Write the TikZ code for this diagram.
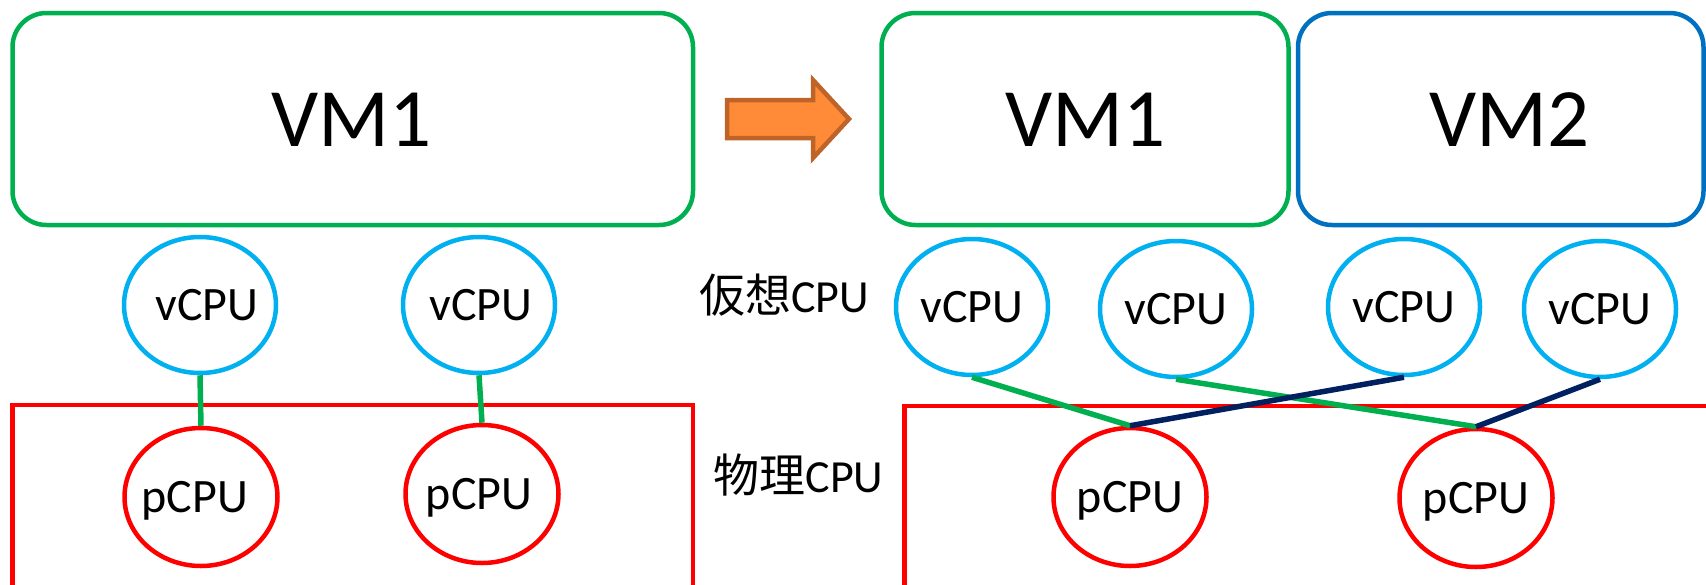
\documentclass[tikz,border=0pt]{standalone}
\usepackage{fontspec}
\setmainfont{Carlito}
\newfontfamily\cjk{Noto Sans CJK JP}
\usetikzlibrary{shapes.geometric}
\definecolor{vmgreen}{HTML}{00B050}
\definecolor{vmblue}{HTML}{0070C0}
\definecolor{cpublue}{HTML}{00B0F0}
\definecolor{cpured}{HTML}{FF0000}
\definecolor{navyline}{HTML}{002060}
\definecolor{arrowfill}{HTML}{FF8B38}
\definecolor{arrowdraw}{HTML}{BE6428}
\tikzset{
  vmbox/.style={draw, line width=4.5pt, rounded corners=34pt},
  vmtext/.style={font=\fontsize{83}{90}\selectfont, inner sep=0pt},
  vcpu/.style={ellipse, draw=cpublue, line width=4.5pt, minimum width=152pt, minimum height=136pt, inner sep=0pt, font=\fontsize{48}{52}\selectfont, text height=30pt, text depth=0pt},
  pcpu/.style={ellipse, draw=cpured, line width=4.5pt, minimum width=153pt, minimum height=138pt, inner sep=0pt, font=\fontsize{48}{52}\selectfont, text height=30pt, text depth=0pt},
  host/.style={draw=cpured, line width=4.5pt},
  gline/.style={draw=vmgreen, line width=5.5pt},
  nline/.style={draw=navyline, line width=5.5pt},
  lbl/.style={font=\fontsize{46}{50}\selectfont, inner sep=0pt, anchor=base},
}
\begin{document}
\begin{tikzpicture}[x=1pt, y=-1pt]
\useasboundingbox (0,0) rectangle (1706,584);
\clip (0,0) rectangle (1706,584);
% left side
\draw[vmbox, vmgreen] (12.5,13) rectangle (693,225);
\node[vmtext] (lvmtext) at (351.5,120) {VM1};
\draw[host] (12.5,405) rectangle (693,610);
\node[vcpu] (lv1) at (200,305) {\makebox[0pt]{\hspace*{14pt}vCPU}};
\node[vcpu] (lv2) at (479,305) {\makebox[0pt]{\hspace*{4pt}vCPU}};
\node[pcpu] (lp1) at (201,497) {\makebox[0pt]{pCPU\hspace*{12pt}}};
\node[pcpu] (lp2) at (482,494) {\makebox[0pt]{pCPU\hspace*{6pt}}};
\draw[gline] (lv1.south) -- (lp1.north);
\draw[gline] (lv2.south) -- (lp2.north);
% arrow
\draw[fill=arrowfill, draw=arrowdraw, line width=4.5pt, line join=miter]
  (727,100) -- (813,100) -- (813,80) -- (849,119) -- (813,158) -- (813,138) -- (727,138) -- cycle;
% right side
\draw[vmbox, vmgreen] (881.5,13) rectangle (1288.5,225);
\node[vmtext] (rvm1) at (1085.5,120) {VM1};
\draw[vmbox, vmblue] (1298,13) rectangle (1703.5,225);
\node[vmtext] (rvm2) at (1509.5,120) {VM2};
\node[lbl] (vlabel) at (784,312) {{\cjk 仮想}CPU};
\node[lbl] (plabel) at (798.5,492) {{\cjk 物理}CPU};
\draw[host] (904.5,406) rectangle (1720,610);
\node[vcpu] (rv1) at (972,307) {vCPU};
\node[vcpu] (rv2) at (1176,309) {vCPU};
\node[vcpu] (rv3) at (1404,307) {vCPU};
\node[vcpu] (rv4) at (1600,309) {vCPU};
\node[pcpu] (rp1) at (1130,497) {pCPU};
\node[pcpu] (rp2) at (1476,498) {pCPU};
\draw[gline] (rv1.south) -- (rp1.north);
\draw[gline] (rv2.south) -- (rp2.north);
\draw[nline] (rp1.north) -- (rv3.south);
\draw[nline] (rp2.north) -- (rv4.south);
\end{tikzpicture}
\end{document}
